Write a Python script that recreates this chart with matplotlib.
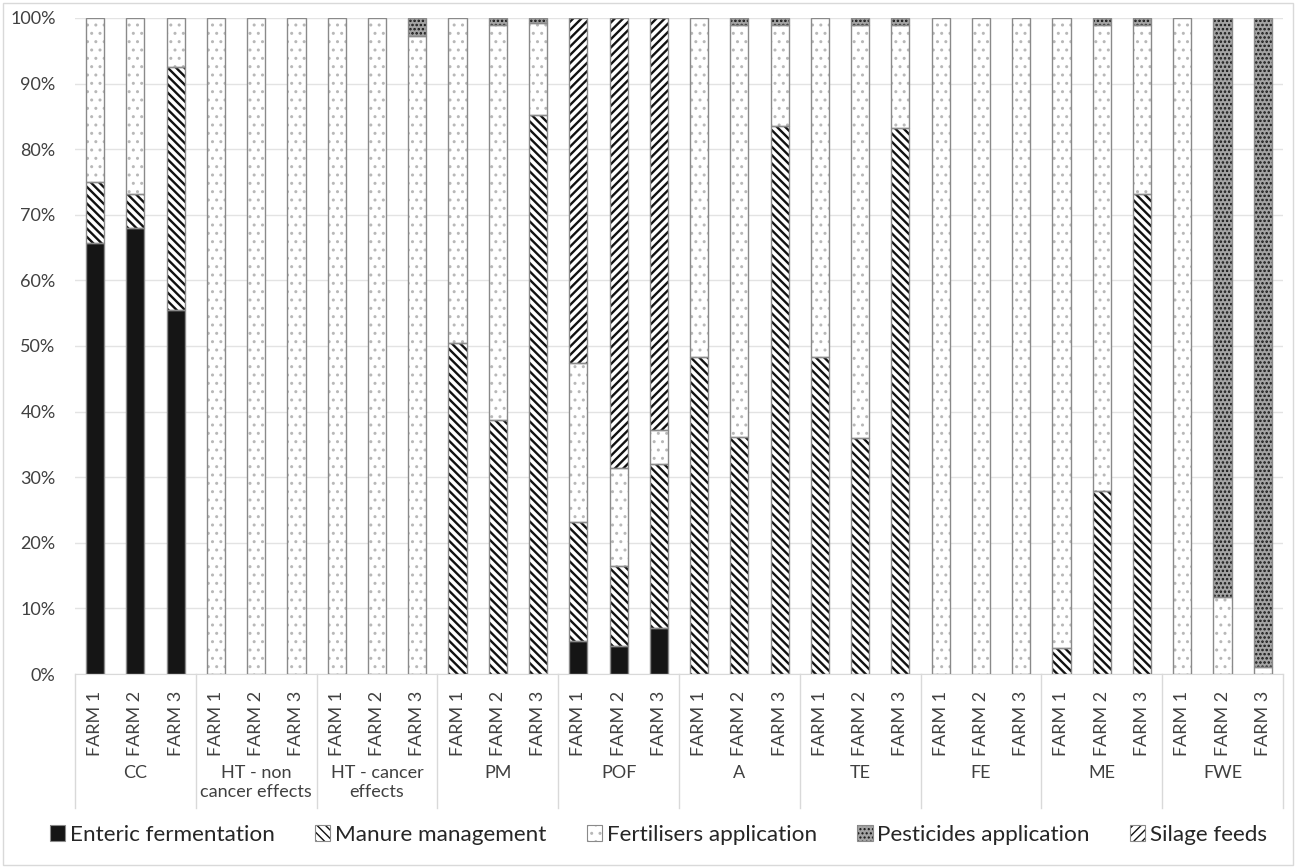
import numpy as np
import matplotlib
matplotlib.use("Agg")
import matplotlib.pyplot as plt
from matplotlib.patches import Patch, Rectangle
from matplotlib.lines import Line2D

plt.rcParams['font.family'] = ['Lato', 'DejaVu Sans']

# impact categories and the three farms under each
categories = ['CC', 'HT - non\ncancer effects', 'HT - cancer\neffects', 'PM', 'POF',
              'A', 'TE', 'FE', 'ME', 'FWE']
farms = ['FARM 1', 'FARM 2', 'FARM 3']

# contribution of each source (%), one value per farm bar, category by category
enteric = [65.7, 68.0, 55.5, 0, 0, 0, 0, 0, 0, 0, 0, 0, 5.1, 4.2, 7.0,
           0, 0, 0, 0, 0, 0, 0, 0, 0, 0, 0, 0, 0, 0, 0]
manure = [9.3, 5.2, 37.1, 0, 0, 0, 0, 0, 0, 50.4, 38.7, 85.2, 18.0, 12.2, 25.0,
          48.3, 36.2, 83.5, 48.3, 35.9, 83.3, 0, 0, 0, 4.0, 27.9, 73.1, 0, 0, 0]
fertilisers = [25.0, 26.8, 7.4, 100, 100, 100, 100, 100, 97.3, 49.6, 60.3, 14.0,
               24.3, 15.0, 5.2, 51.7, 62.8, 15.5, 51.7, 63.1, 15.7, 100, 100, 100,
               96.0, 71.1, 25.9, 100, 11.8, 1.0]
pesticides = [0, 0, 0, 0, 0, 0, 0, 0, 2.7, 0, 1.0, 0.8, 0, 0, 0,
              0, 1.0, 1.0, 0, 1.0, 1.0, 0, 0, 0, 0, 1.0, 1.0, 0, 88.2, 99.0]
silage = [0, 0, 0, 0, 0, 0, 0, 0, 0, 0, 0, 0, 52.6, 68.6, 62.8,
          0, 0, 0, 0, 0, 0, 0, 0, 0, 0, 0, 0, 0, 0, 0]

series = [
    ('Enteric fermentation', enteric, '#151515', None, '#151515', 1.0),
    ('Manure management', manure, 'white', '\\\\\\\\', '#111111', 1.7),
    ('Fertilisers application', fertilisers, 'white', '..', '#b8b8b8', 1.0),
    ('Pesticides application', pesticides, '#a4a4a4', '....', '#151515', 1.2),
    ('Silage feeds', silage, 'white', '////', '#111111', 1.7),
]

fig = plt.figure(figsize=(12.96, 8.68), dpi=100)
ax = fig.add_axes([0.0579, 0.2235, 0.932, 0.7558])

x = np.arange(len(categories) * len(farms))
width = 0.45
bottom = np.zeros(len(x))
handles = []
for name, vals, face, hatch, hcol, hlw in series:
    vals = np.array(vals, dtype=float)
    keep = vals > 0
    bars = ax.bar(x[keep], vals[keep], width, bottom=bottom[keep], facecolor=face,
                  edgecolor=hcol, linewidth=0, hatch=hatch, zorder=2)
    for b in bars:
        b.set_hatch_linewidth(hlw)
    ax.bar(x[keep], vals[keep], width, bottom=bottom[keep], facecolor='none',
           edgecolor='#8a8a8a', linewidth=1.0, zorder=3)
    h = Patch(facecolor=face, edgecolor=hcol, hatch=hatch, linewidth=0)
    h.set_hatch_linewidth(hlw)
    handles.append((h, Patch(facecolor='none', edgecolor='#8a8a8a', linewidth=0.8)))
    bottom += vals

ax.set_xlim(-0.5, len(x) - 0.5)
ax.set_ylim(0, 100)
ax.set_yticks(np.arange(0, 101, 10))
ax.set_yticklabels([f'{v}%' for v in range(0, 101, 10)], fontsize=13, color='#404040')
ax.set_xticks(x)
ax.set_xticklabels(farms * len(categories), rotation=90, fontsize=13, color='#404040')
ax.tick_params(axis='both', length=0)
ax.tick_params(axis='x', pad=12)
ax.tick_params(axis='y', pad=14)
ax.yaxis.grid(True, color='#e3e3e3', linewidth=1.0)
ax.set_axisbelow(True)
for side in ['top', 'right', 'left']:
    ax.spines[side].set_visible(False)
ax.spines['bottom'].set_color('#d9d9d9')

# category labels and separators below the farm ticks
trans = ax.get_xaxis_transform()
for i, cat in enumerate(categories):
    ax.text(3 * i + 1, -0.139, cat, transform=trans, ha='center', va='top',
            fontsize=13, color='#404040', linespacing=1.25)
for b in np.arange(-0.5, len(x), 3):
    ax.add_line(Line2D([b, b], [0, -0.204], transform=trans, color='#d9d9d9',
                       linewidth=1.0, clip_on=False))

fig.legend(handles, [s[0] for s in series], loc='center', bbox_to_anchor=(0.508, 0.038),
           ncol=5, frameon=False, fontsize=16.2, handlelength=0.68, handleheight=0.68,
           handletextpad=0.2, columnspacing=1.8, labelcolor='#262626')

fig.patches.append(Rectangle((0.002, 0.003), 0.996, 0.994, transform=fig.transFigure,
                             facecolor='none', edgecolor='#d9d9d9', linewidth=1.0))

fig.savefig('out.png', dpi=100, facecolor='white')
